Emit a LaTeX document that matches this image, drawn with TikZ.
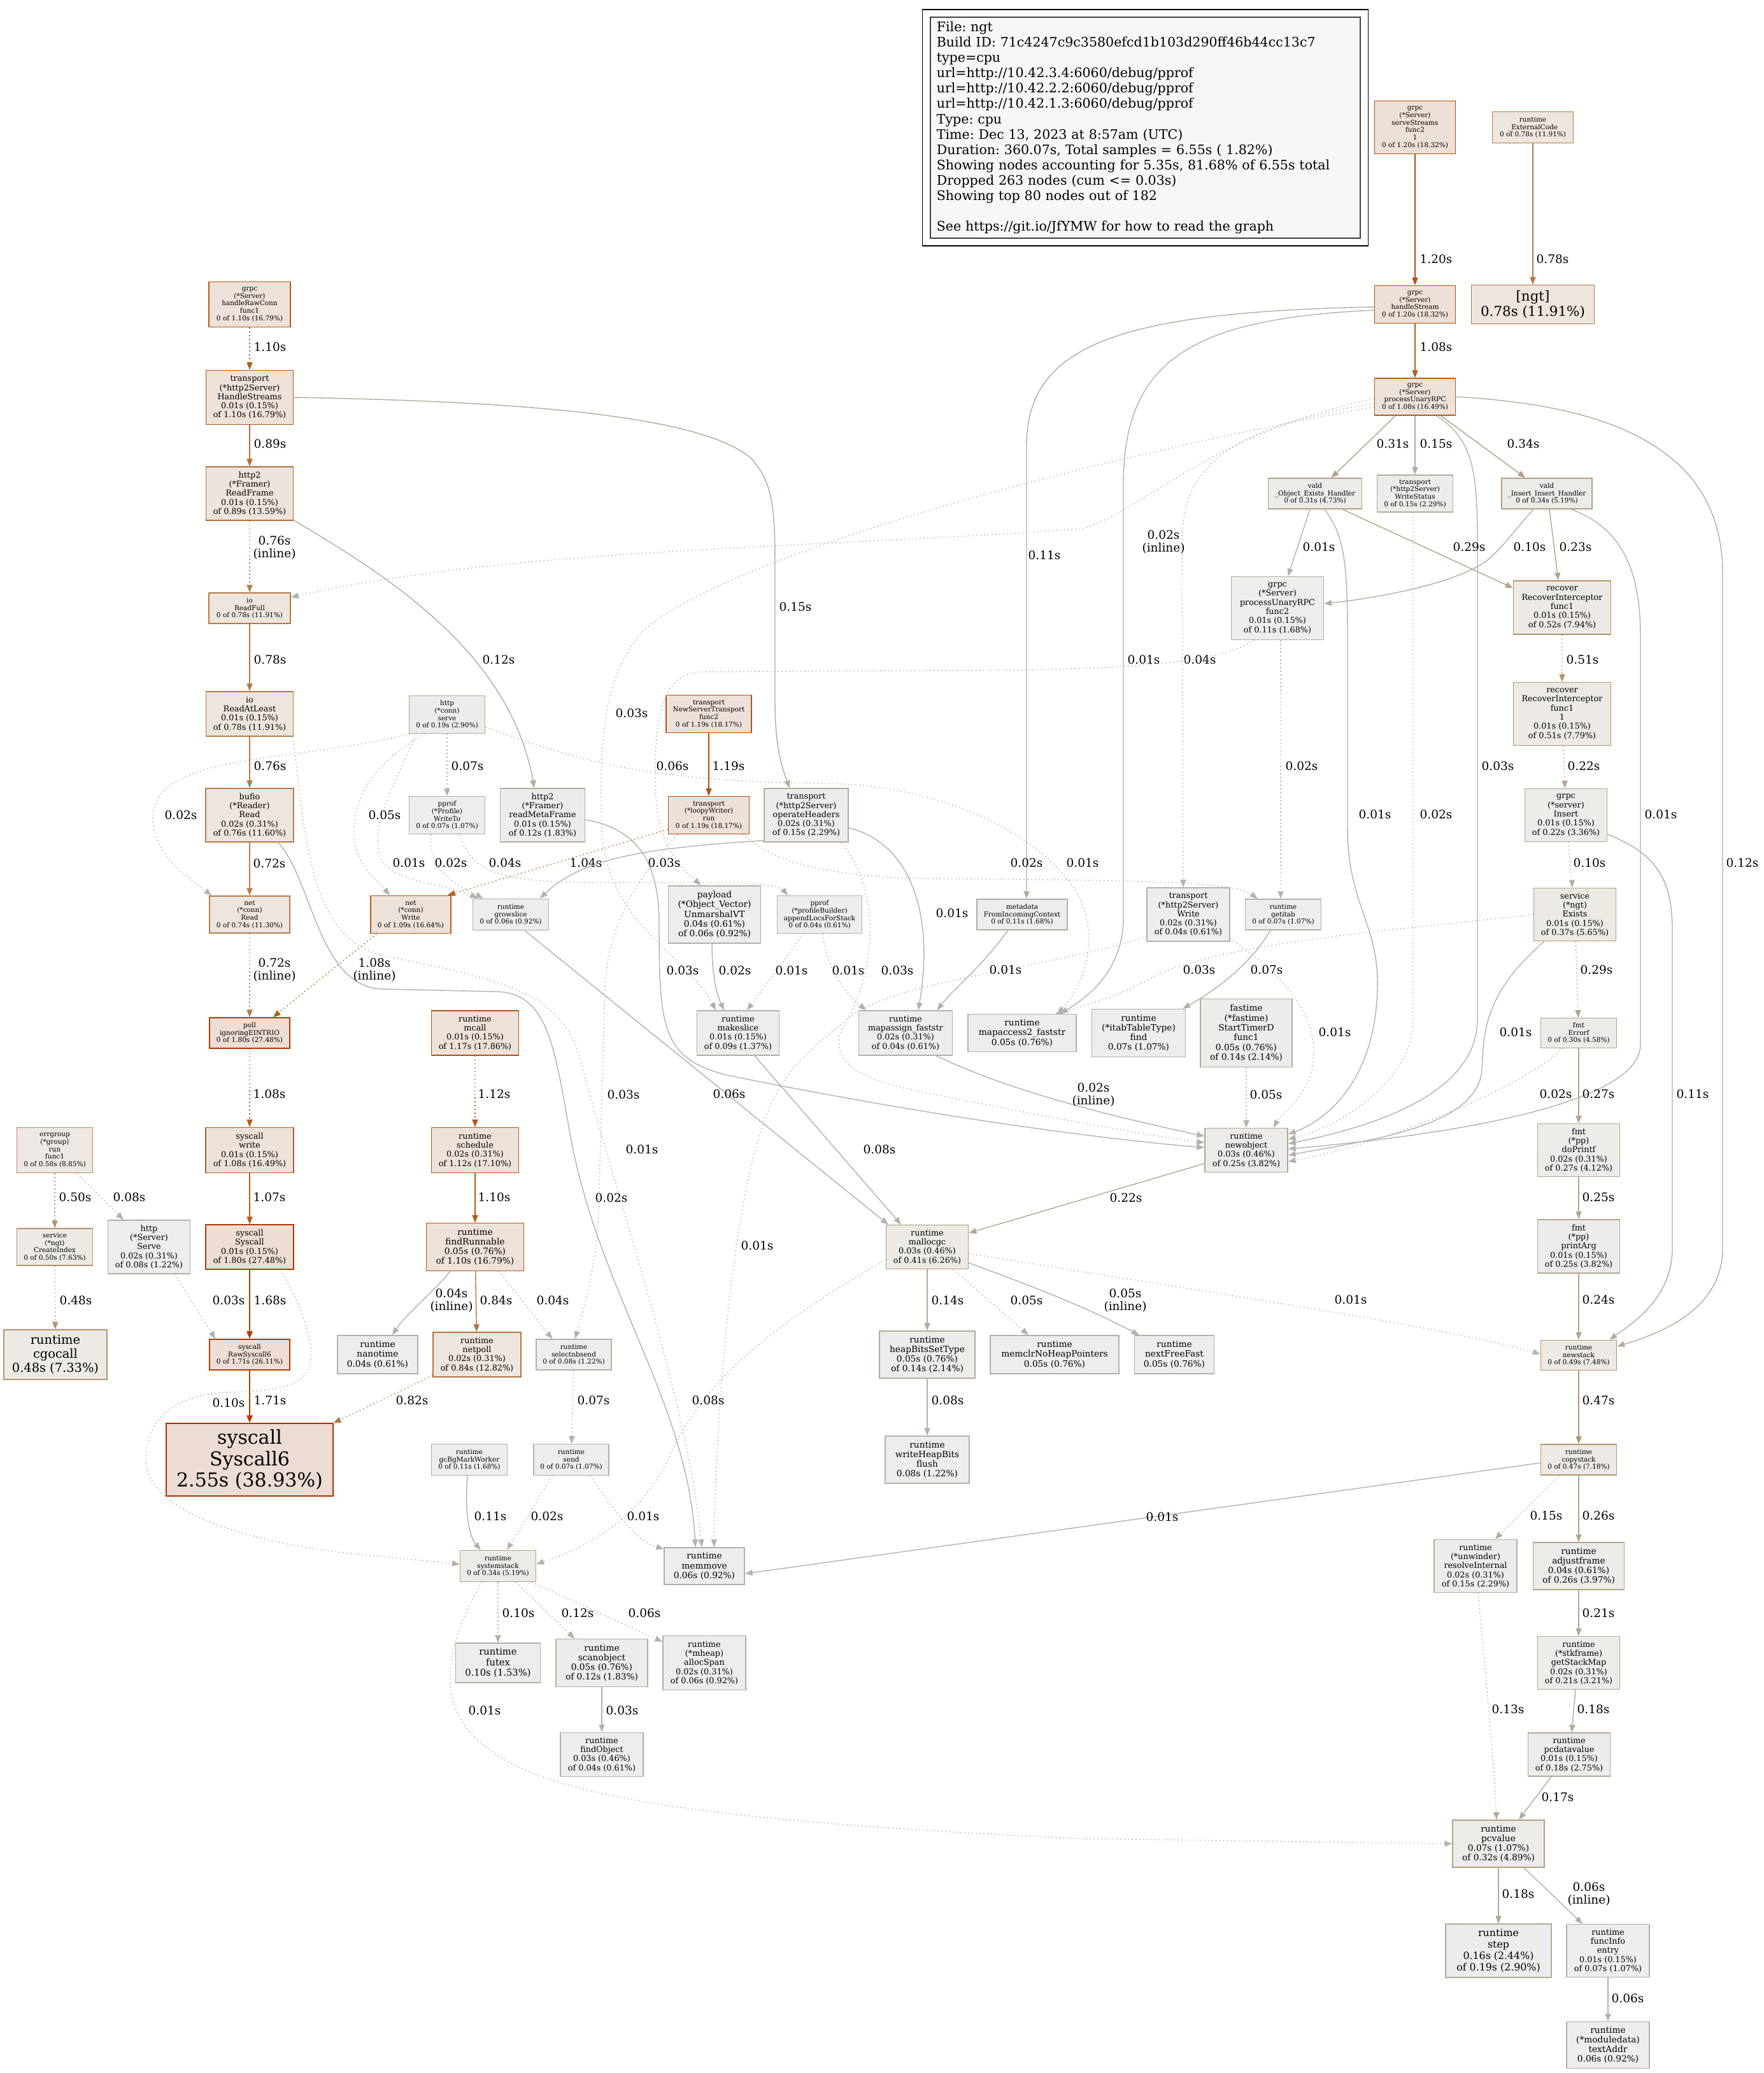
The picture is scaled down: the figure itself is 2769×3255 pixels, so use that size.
\documentclass[tikz,border=0pt]{standalone}
\usepackage{fontspec}
\setmainfont{DejaVu Serif}
\usetikzlibrary{arrows.meta,calc}
\newcommand\mkcol[4]{%
  \pgfmathsetmacro\pS{#2}%
  \pgfmathsetmacro\pSat{\pS<0.2 ? #3*\pS/0.2 : #3}%
  \pgfmathsetmacro\pSp{\pS^0.3}%
  \pgfmathsetmacro\pG{#4*(1-\pSat*\pSp)}%
  \pgfmathsetmacro\pB{#4*(1-\pSat)}%
  \definecolor{#1}{rgb}{#4,\pG,\pB}}
\newcommand\fT{\fontsize{2.99pt}{3.33pt}\selectfont}
\newcommand\fS{\fontsize{3.64pt}{4.07pt}\selectfont}
\newcommand\fM{\fontsize{3.9pt}{4.35pt}\selectfont}
\newcommand\fL{\fontsize{4.18pt}{4.69pt}\selectfont}
\newcommand\fX{\fontsize{4.5pt}{5.05pt}\selectfont}
\newcommand\fC{\fontsize{5.52pt}{6.17pt}\selectfont}
\newcommand\fN{\fontsize{6.09pt}{6.83pt}\selectfont}
\newcommand\fB{\fontsize{8.54pt}{9.59pt}\selectfont}
\newcommand\fG{\fontsize{5.85pt}{6.83pt}\selectfont\frenchspacing}
\newcommand\fE{\fontsize{5.26pt}{5.86pt}\selectfont}
\tikzset{
 pn/.style={rectangle, inner sep=0pt, align=center, line width=0.4pt, text=black,
   /utils/exec={\mkcol{nbd}{#1/6.55}{1}{0.7}\mkcol{nfl}{#1/6.55}{0.1}{0.93}}, draw=nbd, fill=nfl},
 wh/.style 2 args={minimum width=#1*0.01cm, minimum height=#2*0.01cm},
 ed/.style={/utils/exec={\mkcol{edc}{#1/6.55}{1}{0.7}\pgfmathsetmacro\elw{#1>1.3 ? 0.8 : 0.4}},
   draw=edc, line width=\elw pt, -{Triangle[length=3.4pt,width=2.6pt]}},
 dt/.style={dash pattern=on 0.45pt off 1.25pt},
 lb/.style={font=\fE, text=black, inner sep=0pt, align=center},
}
\newcommand\PN[7]{\node[pn=#5, wh={#3}{#4}, font=#6] (#1) at (#2) {#7};}
\begin{document}
\begin{tikzpicture}[x=0.01cm,y=-0.01cm]
\useasboundingbox (0,0) rectangle (2769,3255);
\fill[white] (0,0) rectangle (2769,3255);
% legend
\node[draw=black!75, line width=0.6pt, fill=black!3, wh={675}{347}, text width=6.55cm, align=left, inner xsep=0.1cm, inner ysep=0pt, font=\fG] (legend) at (1798.5,200.5)
{File: ngt\\Build ID: 71c4247c9c3580efcd1b103d290ff46b44cc13c7\\type=cpu\\url=http://10.42.3.4:6060/debug/pprof\\url=http://10.42.2.2:6060/debug/pprof\\url=http://10.42.1.3:6060/debug/pprof\\Type: cpu\\Time: Dec 13, 2023 at 8:57am (UTC)\\Duration: 360.07s, Total samples = 6.55s ( 1.82\%)\\Showing nodes accounting for 5.35s, 81.68\% of 6.55s total\\Dropped 263 nodes (cum <= 0.03s)\\Showing top 80 nodes out of 182\\[6.83pt]See https://git.io/JfYMW for how to read the graph};
\draw[black, line width=0.4pt] ($(legend.south west)+(-11,11)$) rectangle ($(legend.north east)+(11,-11)$);
% nodes right
\PN{ss}{2222,200}{127}{83}{1.20}{\fT}{grpc\\(*Server)\\serveStreams\\func2\\1\\0 of 1.20s (18.32\%)}
\PN{extc}{2407,200}{127}{49}{0.78}{\fT}{runtime\\\_ExternalCode\\0 of 0.78s (11.91\%)}
\PN{ngt}{2407,478}{193}{61}{0.78}{\fN}{[ngt]\\0.78s (11.91\%)}
\PN{hstr}{2222,478}{127}{59}{1.20}{\fT}{grpc\\(*Server)\\handleStream\\0 of 1.20s (18.32\%)}
\PN{pur}{2222,623}{127}{58}{1.08}{\fT}{grpc\\(*Server)\\processUnaryRPC\\0 of 1.08s (16.49\%)}
\PN{voe}{2065,775}{147}{48}{0.31}{\fT}{vald\\\_Object\_Exists\_Handler\\0 of 0.31s (4.73\%)}
\PN{wst}{2222,775}{119}{58}{0.15}{\fT}{transport\\(*http2Server)\\WriteStatus\\0 of 0.15s (2.29\%)}
\PN{vin}{2429,775}{142}{48}{0.34}{\fT}{vald\\\_Insert\_Insert\_Handler\\0 of 0.34s (5.19\%)}
\PN{pur2}{2006,955}{145}{99}{0.11}{\fS}{grpc\\(*Server)\\processUnaryRPC\\func2\\0.01s (0.15\%)\\of 0.11s (1.68\%)}
\PN{ric}{2453,954}{153}{84}{0.52}{\fS}{recover\\RecoverInterceptor\\func1\\0.01s (0.15\%)\\of 0.52s (7.94\%)}
\PN{ric1}{2453,1121}{153}{99}{0.51}{\fS}{recover\\RecoverInterceptor\\func1\\1\\0.01s (0.15\%)\\of 0.51s (7.79\%)}
\PN{ins}{2459,1280}{129}{83}{0.22}{\fS}{grpc\\(*server)\\Insert\\0.01s (0.15\%)\\of 0.22s (3.36\%)}
\PN{exists}{2473,1436}{129}{83}{0.37}{\fS}{service\\(*ngt)\\Exists\\0.01s (0.15\%)\\of 0.37s (5.65\%)}
\PN{errorf}{2479,1622}{119}{47}{0.30}{\fT}{fmt\\Errorf\\0 of 0.30s (4.58\%)}
\PN{doprintf}{2479,1806}{129}{83}{0.27}{\fS}{fmt\\(*pp)\\doPrintf\\0.02s (0.31\%)\\of 0.27s (4.12\%)}
\PN{printarg}{2479,1957}{129}{84}{0.25}{\fS}{fmt\\(*pp)\\printArg\\0.01s (0.15\%)\\of 0.25s (3.82\%)}
\PN{newstack}{2479,2128}{119}{47}{0.49}{\fT}{runtime\\newstack\\0 of 0.49s (7.48\%)}
\PN{copystack}{2479,2292}{119}{48}{0.47}{\fT}{runtime\\copystack\\0 of 0.47s (7.18\%)}
\PN{unw}{2317,2459}{130}{83}{0.15}{\fS}{runtime\\(*unwinder)\\resolveInternal\\0.02s (0.31\%)\\of 0.15s (2.29\%)}
\PN{adjf}{2479,2459}{143}{74}{0.26}{\fM}{runtime\\adjustframe\\0.04s (0.61\%)\\of 0.26s (3.97\%)}
\PN{gsm}{2479,2611}{129}{83}{0.21}{\fS}{runtime\\(*stkframe)\\getStackMap\\0.02s (0.31\%)\\of 0.21s (3.21\%)}
\PN{pcdv}{2464,2755}{129}{68}{0.18}{\fS}{runtime\\pcdatavalue\\0.01s (0.15\%)\\of 0.18s (2.75\%)}
\PN{pcv}{2353,2895}{144}{74}{0.32}{\fM}{runtime\\pcvalue\\0.07s (1.07\%)\\of 0.32s (4.89\%)}
\PN{step}{2353,3063}{166}{84}{0.19}{\fX}{runtime\\step\\0.16s (2.44\%)\\of 0.19s (2.90\%)}
\PN{fie}{2525,3063}{130}{83}{0.07}{\fS}{runtime\\funcInfo\\entry\\0.01s (0.15\%)\\of 0.07s (1.07\%)}
\PN{mtext}{2525,3211}{130}{73}{0.06}{\fM}{runtime\\(*moduledata)\\textAddr\\0.06s (0.92\%)}
% nodes left
\PN{hrc}{392,478}{128}{71}{1.10}{\fT}{grpc\\(*Server)\\handleRawConn\\func1\\0 of 1.10s (16.79\%)}
\PN{hs}{392,624}{137}{85}{1.10}{\fS}{transport\\(*http2Server)\\HandleStreams\\0.01s (0.15\%)\\of 1.10s (16.79\%)}
\PN{rf}{392,775}{137}{84}{0.89}{\fS}{http2\\(*Framer)\\ReadFrame\\0.01s (0.15\%)\\of 0.89s (13.59\%)}
\PN{iorf}{392,955}{128}{48}{0.78}{\fT}{io\\ReadFull\\0 of 0.78s (11.91\%)}
\PN{ioral}{392,1121}{137}{70}{0.78}{\fS}{io\\ReadAtLeast\\0.01s (0.15\%)\\of 0.78s (11.91\%)}
\PN{bufio}{392,1280}{138}{84}{0.76}{\fS}{bufio\\(*Reader)\\Read\\0.02s (0.31\%)\\of 0.76s (11.60\%)}
\PN{netread}{392,1436}{126}{58}{0.74}{\fT}{net\\(*conn)\\Read\\0 of 0.74s (11.30\%)}
\PN{poll}{392,1622}{126}{48}{1.80}{\fT}{poll\\ignoringEINTRIO\\0 of 1.80s (27.48\%)}
\PN{sysw}{392,1806}{138}{71}{1.08}{\fS}{syscall\\write\\0.01s (0.15\%)\\of 1.08s (16.49\%)}
\PN{syscall}{392,1958}{138}{70}{1.80}{\fS}{syscall\\Syscall\\0.01s (0.15\%)\\of 1.80s (27.48\%)}
\PN{raw}{392,2127}{126}{48}{1.71}{\fT}{syscall\\RawSyscall6\\0 of 1.71s (26.11\%)}
\PN{sys6}{392,2292}{262}{114}{2.55}{\fB}{syscall\\Syscall6\\2.55s (38.93\%)}
\PN{errg}{86,1806}{119}{71}{0.58}{\fT}{errgroup\\(*group)\\run\\func1\\0 of 0.58s (8.85\%)}
\PN{cidx}{86,1958}{119}{58}{0.50}{\fT}{service\\(*ngt)\\CreateIndex\\0 of 0.50s (7.63\%)}
\PN{cgo}{87,2127}{162}{78}{0.48}{\fC}{runtime\\cgocall\\0.48s (7.33\%)}
\PN{hserve}{234,1958}{129}{84}{0.08}{\fS}{http\\(*Server)\\Serve\\0.02s (0.31\%)\\of 0.08s (1.22\%)}
\PN{hconn}{702,1122}{119}{59}{0.19}{\fT}{http\\(*conn)\\serve\\0 of 0.19s (2.90\%)}
\PN{pprofw}{702,1280}{119}{59}{0.07}{\fT}{pprof\\(*Profile)\\WriteTo\\0 of 0.07s (1.07\%)}
\PN{netw}{645,1436}{126}{59}{1.09}{\fT}{net\\(*conn)\\Write\\0 of 1.09s (16.64\%)}
\PN{grow}{802,1436}{119}{49}{0.06}{\fT}{runtime\\growslice\\0 of 0.06s (0.92\%)}
\PN{rmf}{852,1280}{133}{84}{0.12}{\fS}{http2\\(*Framer)\\readMetaFrame\\0.01s (0.15\%)\\of 0.12s (1.83\%)}
\PN{nst}{1113,1121}{134}{59}{1.19}{\fT}{transport\\NewServerTransport\\func2\\0 of 1.19s (18.17\%)}
\PN{loopy}{1113,1280}{127}{59}{1.19}{\fT}{transport\\(*loopyWriter)\\run\\0 of 1.19s (18.17\%)}
\PN{oph}{1266,1280}{132}{84}{0.15}{\fS}{transport\\(*http2Server)\\operateHeaders\\0.02s (0.31\%)\\of 0.15s (2.29\%)}
\PN{payload}{1122,1436}{145}{90}{0.06}{\fM}{payload\\(*Object\_Vector)\\UnmarshalVT\\0.04s (0.61\%)\\of 0.06s (0.92\%)}
\PN{apl}{1287,1436}{133}{59}{0.04}{\fT}{pprof\\(*profileBuilder)\\appendLocsForStack\\0 of 0.04s (0.61\%)}
\PN{mcall}{746,1622}{137}{70}{1.17}{\fS}{runtime\\mcall\\0.01s (0.15\%)\\of 1.17s (17.86\%)}
\PN{sched}{746,1806}{137}{71}{1.12}{\fS}{runtime\\schedule\\0.02s (0.31\%)\\of 1.12s (17.10\%)}
\PN{findr}{746,1958}{153}{75}{1.10}{\fM}{runtime\\findRunnable\\0.05s (0.76\%)\\of 1.10s (16.79\%)}
\PN{nanot}{593,2127}{126}{60}{0.04}{\fM}{runtime\\nanotime\\0.04s (0.61\%)}
\PN{netpoll}{749,2127}{138}{70}{0.84}{\fS}{runtime\\netpoll\\0.02s (0.31\%)\\of 0.84s (12.82\%)}
\PN{selnb}{901,2127}{118}{48}{0.08}{\fT}{runtime\\selectnbsend\\0 of 0.08s (1.22\%)}
\PN{gcbg}{737,2292}{119}{49}{0.11}{\fT}{runtime\\gcBgMarkWorker\\0 of 0.11s (1.68\%)}
\PN{send}{897,2292}{118}{49}{0.07}{\fT}{runtime\\send\\0 of 0.07s (1.07\%)}
\PN{sstack}{782,2459}{119}{49}{0.34}{\fT}{runtime\\systemstack\\0 of 0.34s (5.19\%)}
\PN{futex}{782,2611}{133}{62}{0.10}{\fL}{runtime\\futex\\0.10s (1.53\%)}
\PN{scanobj}{945,2611}{144}{75}{0.12}{\fM}{runtime\\scanobject\\0.05s (0.76\%)\\of 0.12s (1.83\%)}
\PN{alloc}{1106,2611}{130}{85}{0.06}{\fS}{runtime\\(*mheap)\\allocSpan\\0.02s (0.31\%)\\of 0.06s (0.92\%)}
\PN{findobj}{945,2755}{130}{69}{0.04}{\fS}{runtime\\findObject\\0.03s (0.46\%)\\of 0.04s (0.61\%)}
\PN{memmove}{1106,2459}{126}{58}{0.06}{\fM}{runtime\\memmove\\0.06s (0.92\%)}
\PN{makeslice}{1159,1622}{129}{70}{0.09}{\fS}{runtime\\makeslice\\0.01s (0.15\%)\\of 0.09s (1.37\%)}
\PN{mapassign}{1422,1622}{147}{70}{0.04}{\fS}{runtime\\mapassign\_faststr\\0.02s (0.31\%)\\of 0.04s (0.61\%)}
\PN{mapaccess}{1605,1622}{170}{59}{0.05}{\fM}{runtime\\mapaccess2\_faststr\\0.05s (0.76\%)}
\PN{itab}{1788,1622}{147}{75}{0.07}{\fM}{runtime\\(*itabTableType)\\find\\0.07s (1.07\%)}
\PN{fastime}{1957,1622}{144}{107}{0.14}{\fM}{fastime\\(*fastime)\\StartTimerD\\func1\\0.05s (0.76\%)\\of 0.14s (2.14\%)}
\PN{newobj}{1957,1806}{130}{69}{0.25}{\fS}{runtime\\newobject\\0.03s (0.46\%)\\of 0.25s (3.82\%)}
\PN{mallocgc}{1456,1958}{129}{69}{0.41}{\fS}{runtime\\mallocgc\\0.03s (0.46\%)\\of 0.41s (6.26\%)}
\PN{hbst}{1456,2127}{150}{74}{0.14}{\fM}{runtime\\heapBitsSetType\\0.05s (0.76\%)\\of 0.14s (2.14\%)}
\PN{memclr}{1656,2127}{202}{60}{0.05}{\fM}{runtime\\memclrNoHeapPointers\\0.05s (0.76\%)}
\PN{nff}{1844,2127}{125}{60}{0.05}{\fM}{runtime\\nextFreeFast\\0.05s (0.76\%)}
\PN{whb}{1456,2292}{132}{74}{0.08}{\fM}{runtime\\writeHeapBits\\flush\\0.08s (1.22\%)}
\PN{meta}{1605,1436}{142}{48}{0.11}{\fT}{metadata\\FromIncomingContext\\0 of 0.11s (1.68\%)}
\PN{tw}{1866,1436}{130}{84}{0.04}{\fS}{transport\\(*http2Server)\\Write\\0.02s (0.31\%)\\of 0.04s (0.61\%)}
\PN{getitab}{2015,1436}{119}{48}{0.07}{\fT}{runtime\\getitab\\0 of 0.07s (1.07\%)}
% ---------- edges: right column
\draw[ed=1.20] (ss) -- (hstr) node[lb] at (2255,407) {1.20s};
\draw[ed=0.78] (extc) -- (ngt) node[lb] at (2438,407) {0.78s};
\draw[ed=1.08] (hstr) -- (pur) node[lb] at (2255,545) {1.08s};
\draw[ed=0.11] ($(hstr.west)+(0,4)$) .. controls (1760,490) and (1612,540) .. (1612,700) -- ($(meta.north)+(7,0)$) node[lb] at (1640,872) {0.11s};
\draw[ed=0.01] ($(hstr.west)+(0,9)$) .. controls (1880,500) and (1764,560) .. (1764,760) -- (1764,1440) .. controls (1764,1530) and (1700,1570) .. ($(mapaccess.north)+(60,0)$) node[lb] at (1796,1036) {0.01s};
\draw[ed=0.31] (pur) -- (voe) node[lb] at (2187,697) {0.31s};
\draw[ed=0.15] (pur) -- (wst) node[lb] at (2255,697) {0.15s};
\draw[ed=0.34] (pur) -- (vin) node[lb] at (2392,697) {0.34s};
\draw[ed=0.03] ($(pur.south)+(34,0)$) .. controls (2310,690) and (2320,730) .. (2320,850) -- (2320,1600) .. controls (2320,1720) and (2150,1770) .. ($(newobj.east)+(0,-10)$) node[lb] at (2352,1203) {0.03s};
\draw[ed=0.12] (pur.east) .. controls (2500,635) and (2705,690) .. (2705,900) -- (2705,1960) .. controls (2705,2050) and (2620,2090) .. ($(newstack.east)+(0,-14)$) node[lb] at (2736,1355) {0.12s};
\draw[ed=0.02,dt] ($(pur.west)+(0,3)$) .. controls (1900,680) and (1800,800) .. (1700,830) .. controls (1300,860) and (800,860) .. ($(iorf.east)+(0,-17)$) node[lb] at (1827,851) {0.02s\\(inline)};
\draw[ed=0.04,dt] ($(pur.west)+(0,10)$) .. controls (1950,670) and (1856,720) .. (1856,850) -- ($(tw.north)+(-8,0)$) node[lb] at (1884,1036) {0.04s};
\draw[ed=0.03,dt] ($(pur.west)+(0,16)$) .. controls (1700,720) and (1150,870) .. (1010,990) .. controls (950,1060) and (940,1150) .. (945,1300) .. controls (950,1450) and (1080,1500) .. ($(makeslice.north)+(-35,0)$) node[lb] at (992,1120) {0.03s};
\draw[ed=0.01] (voe) -- (pur2) node[lb] at (2071,859) {0.01s};
\draw[ed=0.29] ($(voe.south)+(43,0)$) -- ($(ric.north west)+(0,12)$) node[lb] at (2307,859) {0.29s};
\draw[ed=0.01] ($(voe.south)+(15,0)$) .. controls (2110,840) and (2116,880) .. (2116,1000) -- (2116,1300) .. controls (2116,1420) and (2165,1450) .. (2163,1550) .. controls (2160,1700) and (2080,1760) .. ($(newobj.east)+(0,-25)$) node[lb] at (2159,1279) {0.01s};
\draw[ed=0.10] ($(vin.south)+(-21,0)$) .. controls (2380,830) and (2360,860) .. (2335,880) .. controls (2280,920) and (2150,940) .. ($(pur2.east)+(0,-7)$) node[lb] at (2402,859) {0.10s};
\draw[ed=0.23] ($(vin.south)+(4,0)$) -- ($(ric.north)+(-6,0)$) node[lb] at (2474,859) {0.23s};
\draw[ed=0.01] ($(vin.south)+(38,0)$) .. controls (2550,830) and (2576,900) .. (2576,1000) -- (2576,1640) .. controls (2576,1730) and (2300,1780) .. ($(newobj.east)+(0,-2)$) node[lb] at (2608,1279) {0.01s};
\draw[ed=0.02,dt] ($(wst.south)+(-3,0)$) -- (2219,1600) .. controls (2219,1700) and (2100,1770) .. ($(newobj.east)+(0,-17)$) node[lb] at (2255,1279) {0.02s};
\draw[ed=0.02,dt] ($(pur2.south)+(5,0)$) -- ($(getitab.north)+(-4,0)$) node[lb] at (2044,1203) {0.02s};
\draw[ed=0.06,dt] ($(pur2.south)+(-36,0)$) .. controls (1900,1050) and (1700,1053) .. (1400,1053) -- (1100,1055) .. controls (1030,1058) and (1027,1150) .. (1030,1250) .. controls (1035,1340) and (1080,1370) .. ($(payload.north)+(-22,0)$) node[lb] at (1056,1203) {0.06s};
\draw[ed=0.51,dt] (ric) -- (ric1) node[lb] at (2485,1036) {0.51s};
\draw[ed=0.22,dt] (ric1) -- (ins) node[lb] at (2487,1203) {0.22s};
\draw[ed=0.10,dt] (ins) -- (exists) node[lb] at (2496,1355) {0.10s};
\draw[ed=0.29,dt] (exists) -- (errorf) node[lb] at (2507,1523) {0.29s};
\draw[ed=0.27] (errorf) -- (doprintf) node[lb] at (2510,1718) {0.27s};
\draw[ed=0.25] (doprintf) -- (printarg) node[lb] at (2510,1880) {0.25s};
\draw[ed=0.24] (printarg) -- (newstack) node[lb] at (2510,2041) {0.24s};
\draw[ed=0.47] (newstack) -- (copystack) node[lb] at (2510,2199) {0.47s};
\draw[ed=0.11] ($(ins.east)+(0,30)$) .. controls (2600,1340) and (2626,1380) .. (2626,1460) -- (2626,1960) .. controls (2626,2040) and (2560,2080) .. ($(newstack.north east)+(-12,0)$) node[lb] at (2658,1718) {0.11s};
\draw[ed=0.01] ($(exists.south)+(-48,0)$) .. controls (2330,1560) and (2330,1620) .. (2327,1680) .. controls (2320,1770) and (2150,1790) .. ($(newobj.east)+(0,8)$) node[lb] at (2380,1621) {0.01s};
\draw[ed=0.02,dt] ($(errorf.south)+(-25,0)$) .. controls (2400,1700) and (2200,1790) .. ($(newobj.east)+(0,18)$) node[lb] at (2443,1718) {0.02s};
\draw[ed=0.03,dt] (exists.west) .. controls (2200,1460) and (1900,1480) .. (1800,1540) .. controls (1740,1570) and (1700,1580) .. ($(mapaccess.north)+(52,0)$) node[lb] at (1883,1523) {0.03s};
\draw[ed=0.01,dt] ($(tw.south east)+(0,-5)$) .. controls (2030,1540) and (2065,1600) .. (2063,1660) .. controls (2060,1720) and (2010,1750) .. ($(newobj.north)+(43,0)$) node[lb] at (2096,1621) {0.01s};
\draw[ed=0.01,dt] ($(tw.south west)+(0,-8)$) .. controls (1650,1520) and (1400,1540) .. (1330,1600) .. controls (1260,1660) and (1230,1680) .. (1200,1760) .. controls (1150,1900) and (1125,2200) .. ($(memmove.north)+(15,0)$) node[lb] at (1189,1956) {0.01s};
\draw[ed=0.07] ($(getitab.south)+(-20,0)$) .. controls (1960,1520) and (1900,1560) .. ($(itab.north east)+(-5,0)$) node[lb] at (1989,1523) {0.07s};
\draw[ed=0.05,dt] (fastime) -- (newobj) node[lb] at (1988,1719) {0.05s};
\draw[ed=0.22] ($(newobj.west)+(0,21)$) -- ($(mallocgc.east)+(0,-22)$) node[lb] at (1768,1881) {0.22s};
\draw[ed=0.14] (mallocgc) -- (hbst) node[lb] at (1488,2042) {0.14s};
\draw[ed=0.05,dt] ($(mallocgc.south)+(41,0)$) -- ($(memclr.north)+(-41,0)$) node[lb] at (1612,2042) {0.05s};
\draw[ed=0.05] ($(mallocgc.east)+(0,25)$) .. controls (1650,2030) and (1720,2060) .. ($(nff.north west)+(8,0)$) node[lb] at (1767,2042) {0.05s\\(inline)};
\draw[ed=0.01,dt] ($(mallocgc.east)+(0,10)$) .. controls (1900,2030) and (2250,2080) .. ($(newstack.west)+(0,-2)$) node[lb] at (2121,2041) {0.01s};
\draw[ed=0.08,dt] ($(mallocgc.west)+(0,20)$) .. controls (1250,2060) and (1110,2150) .. (1050,2290) .. controls (1000,2390) and (920,2430) .. ($(sstack.east)+(0,-3)$) node[lb] at (1112,2199) {0.08s};
\draw[ed=0.08] (hbst) -- (whb) node[lb] at (1488,2199) {0.08s};
\draw[ed=0.15,dt] ($(copystack.south west)+(30,0)$) -- ($(unw.north east)+(-35,0)$) node[lb] at (2428,2380) {0.15s};
\draw[ed=0.26] (copystack) -- (adjf) node[lb] at (2510,2380) {0.26s};
\draw[ed=0.01] ($(copystack.west)+(0,5)$) -- ($(memmove.east)+(0,12)$) node[lb] at (1825,2382) {0.01s};
\draw[ed=0.21] (adjf) -- (gsm) node[lb] at (2510,2533) {0.21s};
\draw[ed=0.18] ($(gsm.south)+(-5,0)$) -- ($(pcdv.north)+(4,0)$) node[lb] at (2502,2684) {0.18s};
\draw[ed=0.17] ($(pcdv.south)+(-28,0)$) -- ($(pcv.north)+(32,0)$) node[lb] at (2446,2822) {0.17s};
\draw[ed=0.13,dt] ($(unw.south)+(4,0)$) .. controls (2330,2600) and (2345,2750) .. ($(pcv.north)+(-3,0)$) node[lb] at (2368,2684) {0.13s};
\draw[ed=0.18] (pcv) -- (step) node[lb] at (2384,2974) {0.18s};
\draw[ed=0.06] ($(pcv.south)+(40,0)$) -- ($(fie.north)+(-40,0)$) node[lb] at (2495,2974) {0.06s\\(inline)};
\draw[ed=0.06] (fie) -- (mtext) node[lb] at (2556,3138) {0.06s};
% ---------- edges: left column
\draw[ed=1.10,dt] (hrc) -- (hs) node[lb] at (424,545) {1.10s};
\draw[ed=0.89] (hs) -- (rf) node[lb] at (424,697) {0.89s};
\draw[ed=0.15] (hs.east) .. controls (800,630) and (1100,650) .. (1180,720) .. controls (1215,760) and (1217,800) .. (1217,900) -- (1217,1100) .. controls (1217,1180) and (1230,1210) .. ($(oph.north)+(-26,0)$) node[lb] at (1249,953) {0.15s};
\draw[ed=0.76,dt] (rf) -- (iorf) node[lb] at (431,860) {0.76s\\(inline)};
\draw[ed=0.12] ($(rf.south east)+(0,-1)$) .. controls (600,900) and (800,1020) .. ($(rmf.north)+(-13,0)$) node[lb] at (783,1036) {0.12s};
\draw[ed=0.78] (iorf) -- (ioral) node[lb] at (424,1036) {0.78s};
\draw[ed=0.76] (ioral) -- (bufio) node[lb] at (424,1203) {0.76s};
\draw[ed=0.01,dt] ($(ioral.south east)+(-2,0)$) .. controls (480,1300) and (480,1470) .. (600,1500) .. controls (800,1540) and (880,1560) .. (910,1660) .. controls (960,1850) and (1080,2200) .. ($(memmove.north)+(-4,0)$) node[lb] at (1008,1805) {0.01s};
\draw[ed=0.02] ($(bufio.south east)+(-25,0)$) .. controls (490,1380) and (500,1550) .. (600,1553) -- (780,1557) .. controls (860,1560) and (870,1640) .. (895,1780) .. controls (940,2030) and (1080,2200) .. ($(memmove.north)+(-14,0)$) node[lb] at (960,1881) {0.02s};
\draw[ed=0.72] (bufio) -- (netread) node[lb] at (423,1356) {0.72s};
\draw[ed=0.72,dt] (netread) -- (poll) node[lb] at (431,1523) {0.72s\\(inline)};
\draw[ed=0.02,dt] ($(hconn.south west)+(3,0)$) .. controls (450,1200) and (235,1180) .. (240,1290) .. controls (245,1350) and (300,1380) .. ($(netread.north west)+(4,0)$) node[lb] at (284,1280) {0.02s};
\draw[ed=0.07,dt] (hconn) -- (pprofw) node[lb] at (734,1203) {0.07s};
\draw[ed=0.05,dt] ($(hconn.south)+(-35,0)$) .. controls (600,1190) and (555,1240) .. (556,1310) .. controls (558,1360) and (595,1385) .. ($(netw.north)+(-33,0)$) node[lb] at (604,1280) {0.05s};
\draw[ed=0.01,dt] ($(hconn.south west)+(12,0)$) .. controls (620,1230) and (585,1290) .. (595,1340) .. controls (610,1390) and (700,1385) .. ($(grow.north west)+(8,0)$) node[lb] at (642,1355) {0.01s};
\draw[ed=0.01,dt] ($(hconn.east)+(0,20)$) .. controls (900,1190) and (1000,1228) .. (1300,1230) .. controls (1500,1235) and (1640,1320) .. (1690,1400) .. controls (1725,1460) and (1710,1540) .. ($(mapaccess.north)+(55,0)$) node[lb] at (1700,1355) {0.01s};
\draw[ed=0.02,dt] ($(pprofw.south)+(-25,0)$) .. controls (670,1370) and (720,1390) .. ($(grow.north west)+(17,0)$) node[lb] at (708,1355) {0.02s};
\draw[ed=0.04,dt] ($(pprofw.south)+(20,0)$) .. controls (740,1375) and (800,1386) .. (950,1386) -- (1150,1386) .. controls (1210,1387) and (1228,1395) .. ($(apl.north)+(-50,0)$) node[lb] at (793,1355) {0.04s};
\draw[ed=1.19] (nst) -- (loopy) node[lb] at (1144,1203) {1.19s};
\draw[ed=1.04,dt] ($(loopy.south west)+(0,-8)$) -- ($(netw.north east)+(-6,0)$) node[lb] at (920,1355) {1.04s};
\draw[ed=0.02,dt] ($(loopy.south east)+(-10,0)$) .. controls (1220,1360) and (1320,1380) .. (1500,1380) .. controls (1800,1382) and (1940,1385) .. ($(getitab.north west)+(20,0)$) node[lb] at (1612,1355) {0.02s};
\draw[ed=0.03,dt] ($(loopy.south west)+(15,0)$) .. controls (1000,1380) and (955,1450) .. (950,1550) -- (940,1900) .. controls (935,2000) and (915,2060) .. ($(selnb.north)+(2,0)$) node[lb] at (979,1719) {0.03s};
\draw[ed=0.03] ($(oph.south west)+(0,-3)$) .. controls (1050,1330) and (920,1340) .. ($(grow.north)+(46,0)$) node[lb] at (1043,1355) {0.03s};
\draw[ed=0.01] ($(oph.east)+(0,20)$) .. controls (1420,1320) and (1470,1420) .. ($(mapassign.north)+(20,0)$) node[lb] at (1495,1434) {0.01s};
\draw[ed=0.03,dt] ($(oph.south east)+(-12,0)$) .. controls (1400,1420) and (1360,1560) .. (1320,1620) .. controls (1300,1690) and (1400,1705) .. (1500,1725) .. controls (1700,1765) and (1850,1790) .. ($(newobj.west)+(0,-12)$) node[lb] at (1409,1524) {0.03s};
\draw[ed=0.03] ($(rmf.east)+(0,7)$) .. controls (990,1300) and (1035,1340) .. (1035,1450) .. controls (1035,1620) and (1040,1665) .. (1150,1690) .. controls (1500,1760) and (1750,1790) .. ($(newobj.west)+(0,-4)$) node[lb] at (1072,1524) {0.03s};
\draw[ed=0.02] ($(mapassign.south)+(48,0)$) .. controls (1600,1720) and (1780,1760) .. ($(newobj.west)+(0,-22)$) node[lb] at (1717,1719) {0.02s\\(inline)};
\draw[ed=0.01] ($(meta.south)+(-22,0)$) .. controls (1540,1520) and (1500,1550) .. ($(mapassign.north east)+(-25,0)$) node[lb] at (1579,1523) {0.01s};
\draw[ed=0.02] ($(payload.south)+(-4,0)$) .. controls (1118,1530) and (1125,1560) .. ($(makeslice.north)+(-22,0)$) node[lb] at (1154,1524) {0.02s};
\draw[ed=0.01,dt] ($(apl.south)+(-25,0)$) -- ($(makeslice.north)+(14,0)$) node[lb] at (1243,1524) {0.01s};
\draw[ed=0.01,dt] ($(apl.south)+(5,0)$) .. controls (1300,1530) and (1330,1560) .. ($(mapassign.north west)+(12,0)$) node[lb] at (1332,1524) {0.01s};
\draw[ed=0.06] ($(grow.south)+(22,0)$) -- ($(mallocgc.north west)+(4,0)$) node[lb] at (1145,1718) {0.06s};
\draw[ed=0.08] ($(makeslice.south)+(26,0)$) -- ($(mallocgc.north)+(-41,0)$) node[lb] at (1381,1805) {0.08s};
\draw[ed=0.50,dt] (errg) -- (cidx) node[lb] at (118,1880) {0.50s};
\draw[ed=0.08,dt] ($(errg.south east)+(-25,0)$) -- ($(hserve.north west)+(25,0)$) node[lb] at (203,1880) {0.08s};
\draw[ed=0.48,dt] (cidx) -- (cgo) node[lb] at (119,2042) {0.48s};
\draw[ed=1.08,dt] (poll) -- (sysw) node[lb] at (423,1718) {1.08s};
\draw[ed=1.08,dt] ($(netw.south west)+(10,0)$) -- ($(poll.north east)+(-27,0)$) node[lb] at (588,1523) {1.08s\\(inline)};
\draw[ed=1.07] (sysw) -- (syscall) node[lb] at (423,1880) {1.07s};
\draw[ed=1.68] (syscall) -- (raw) node[lb] at (424,2042) {1.68s};
\draw[ed=0.03,dt] ($(hserve.south)+(40,0)$) -- ($(raw.north west)+(10,0)$) node[lb] at (359,2042) {0.03s};
\draw[ed=0.10,dt] ($(syscall.south east)+(-22,0)$) .. controls (470,2040) and (500,2120) .. (484,2150) .. controls (470,2180) and (420,2185) .. (360,2186) .. controls (260,2190) and (225,2240) .. (230,2300) .. controls (240,2390) and (450,2430) .. (560,2440) -- ($(sstack.west)+(0,-3)$) node[lb] at (359,2203) {0.10s};
\draw[ed=1.71] (raw) -- (sys6) node[lb] at (424,2199) {1.71s};
\draw[ed=1.12,dt] (mcall) -- (sched) node[lb] at (776,1718) {1.12s};
\draw[ed=1.10] (sched) -- (findr) node[lb] at (776,1880) {1.10s};
\draw[ed=0.04] ($(findr.south west)+(38,0)$) .. controls (680,2030) and (640,2060) .. ($(nanot.north)+(23,0)$) node[lb] at (709,2042) {0.04s\\(inline)};
\draw[ed=0.84] (findr) -- (netpoll) node[lb] at (779,2042) {0.84s};
\draw[ed=0.04,dt] ($(findr.south east)+(-40,0)$) -- ($(selnb.north west)+(26,0)$) node[lb] at (868,2042) {0.04s};
\draw[ed=0.82,dt] ($(netpoll.south west)+(0,-3)$) -- (sys6.north east) node[lb] at (647,2199) {0.82s};
\draw[ed=0.07,dt] (selnb) -- (send) node[lb] at (932,2199) {0.07s};
\draw[ed=0.11] ($(gcbg.south)+(-3,0)$) .. controls (730,2370) and (735,2410) .. ($(sstack.north west)+(33,0)$) node[lb] at (770,2381) {0.11s};
\draw[ed=0.02,dt] ($(send.south west)+(30,0)$) -- ($(sstack.north)+(14,0)$) node[lb] at (859,2381) {0.02s};
\draw[ed=0.01,dt] ($(send.south east)+(-30,0)$) .. controls (970,2380) and (1000,2420) .. ($(memmove.north west)+(0,3)$) node[lb] at (1010,2381) {0.01s};
\draw[ed=0.10,dt] (sstack) -- (futex) node[lb] at (814,2533) {0.10s};
\draw[ed=0.12,dt] ($(sstack.south)+(28,0)$) -- ($(scanobj.north west)+(30,0)$) node[lb] at (907,2533) {0.12s};
\draw[ed=0.06,dt] ($(sstack.south east)+(-8,0)$) -- ($(alloc.north west)+(0,10)$) node[lb] at (1012,2533) {0.06s};
\draw[ed=0.01,dt] ($(sstack.south west)+(35,0)$) .. controls (700,2580) and (680,2680) .. (760,2740) .. controls (850,2820) and (1100,2860) .. (1700,2887) -- (pcv.west) node[lb] at (761,2686) {0.01s};
\draw[ed=0.03] (scanobj) -- (findobj) node[lb] at (977,2686) {0.03s};
\end{tikzpicture}
\end{document}
